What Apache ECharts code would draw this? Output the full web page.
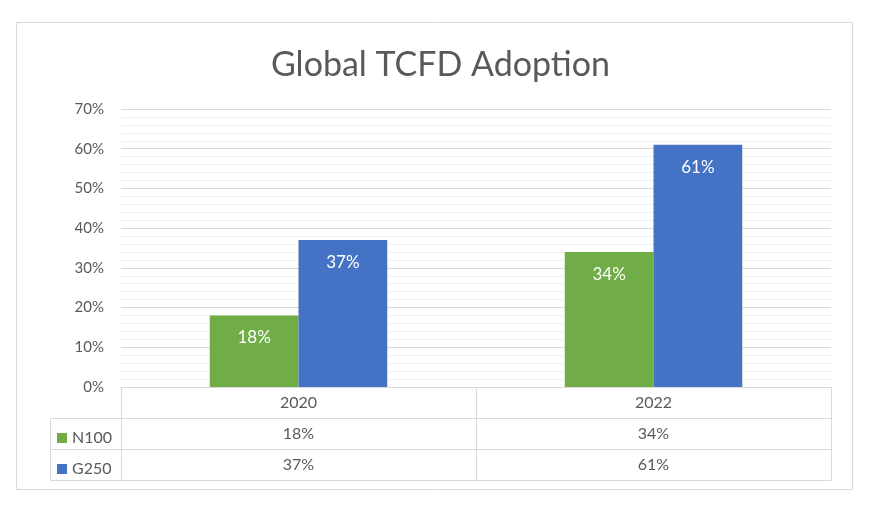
<!DOCTYPE html>
<html>
<head>
<meta charset="utf-8">
<script src="https://cdn.jsdelivr.net/npm/echarts@6/dist/echarts.min.js"></script>
<style>html,body{margin:0;padding:0;background:#fff;}#c{width:881px;height:509px;}</style>
</head>
<body>
<div id="c"></div>
<script>
var title = 'Global TCFD Adoption';
var categories = ['2020', '2022'];
var seriesNames = ['N100', 'G250'];
var n100 = [18, 34];
var g250 = [37, 61];
var yTicks = [0, 10, 20, 30, 40, 50, 60, 70];

var colors = ['#70AD47', '#4472C4'];
var FONT = 'Lato';
var TXT = '#595959';
var LINE = '#d9d9d9';
var seriesData = [n100, g250];

var chart = echarts.init(document.getElementById('c'), null, {renderer: 'canvas'});

function pct(v) { return v + '%'; }

var xAxes = [
  {
    type: 'category', data: categories, gridIndex: 0, position: 'bottom', offset: 0,
    axisLine: {show: true, lineStyle: {color: LINE, width: 1}},
    axisTick: {show: true, length: 31, lineStyle: {color: LINE, width: 1}},
    axisLabel: {color: TXT, fontFamily: FONT, fontSize: 16, margin: 8}
  },
  {
    type: 'category', data: n100.map(pct), gridIndex: 0, position: 'bottom', offset: 31,
    axisLine: {show: true, lineStyle: {color: LINE, width: 1}},
    axisTick: {show: true, length: 31, lineStyle: {color: LINE, width: 1}},
    axisLabel: {color: TXT, fontFamily: FONT, fontSize: 16, margin: 8}
  },
  {
    type: 'category', data: g250.map(pct), gridIndex: 0, position: 'bottom', offset: 62,
    axisLine: {show: true, lineStyle: {color: LINE, width: 1}},
    axisTick: {show: true, length: 31, lineStyle: {color: LINE, width: 1}},
    axisLabel: {color: TXT, fontFamily: FONT, fontSize: 16, margin: 8}
  },
  {
    type: 'category', data: categories, gridIndex: 0, position: 'bottom', offset: 93,
    axisLine: {show: true, lineStyle: {color: LINE, width: 1}},
    axisTick: {show: false}, axisLabel: {show: false}
  }
];

var option = {
  backgroundColor: '#fff',
  animation: false,
  title: {
    text: title, left: 'center', top: 43,
    textStyle: {color: TXT, fontFamily: FONT, fontSize: 34, fontWeight: 'normal'}
  },
  legend: {
    data: seriesNames, orient: 'vertical', left: 52, top: 425,
    icon: 'rect', itemWidth: 10, itemHeight: 10, itemGap: 15,
    textStyle: {color: TXT, fontFamily: FONT, fontSize: 16, lineHeight: 16},
    selectedMode: false
  },
  grid: {left: 121, right: 50, top: 109, bottom: 122, containLabel: false},
  xAxis: xAxes,
  yAxis: {
    type: 'value', min: 0, max: 70, interval: 10,
    axisLine: {show: false}, axisTick: {show: false},
    axisLabel: {color: TXT, fontFamily: FONT, fontSize: 15, margin: 17, formatter: function (v) { return v + '%'; }},
    splitLine: {show: true, lineStyle: {color: LINE, width: 1}},
    minorTick: {show: false, splitNumber: 5},
    minorSplitLine: {show: true, lineStyle: {color: '#f0f0f0', width: 1}}
  },
  series: seriesNames.map(function (name, i) {
    return {
      name: name, type: 'bar', xAxisIndex: 0, data: seriesData[i],
      barGap: '0%', barCategoryGap: '50%',
      itemStyle: {color: colors[i]},
      label: {show: true, position: 'insideTop', distance: 14, color: '#fff', fontFamily: FONT, fontSize: 17, formatter: function (p) { return p.value + '%'; }}
    };
  }),
  graphic: [
    {type: 'rect', shape: {x: 16.5, y: 22.5, width: 836, height: 467}, style: {fill: 'none', stroke: LINE, lineWidth: 1}, silent: true, z: -1},
    {type: 'line', shape: {x1: 50.5, y1: 418.5, x2: 121, y2: 418.5}, style: {stroke: LINE, lineWidth: 1}},
    {type: 'line', shape: {x1: 50.5, y1: 449.5, x2: 121, y2: 449.5}, style: {stroke: LINE, lineWidth: 1}},
    {type: 'line', shape: {x1: 50.5, y1: 480.5, x2: 121, y2: 480.5}, style: {stroke: LINE, lineWidth: 1}},
    {type: 'line', shape: {x1: 50.5, y1: 418.5, x2: 50.5, y2: 480.5}, style: {stroke: LINE, lineWidth: 1}}
  ]
};
chart.setOption(option);
</script>
</body>
</html>
